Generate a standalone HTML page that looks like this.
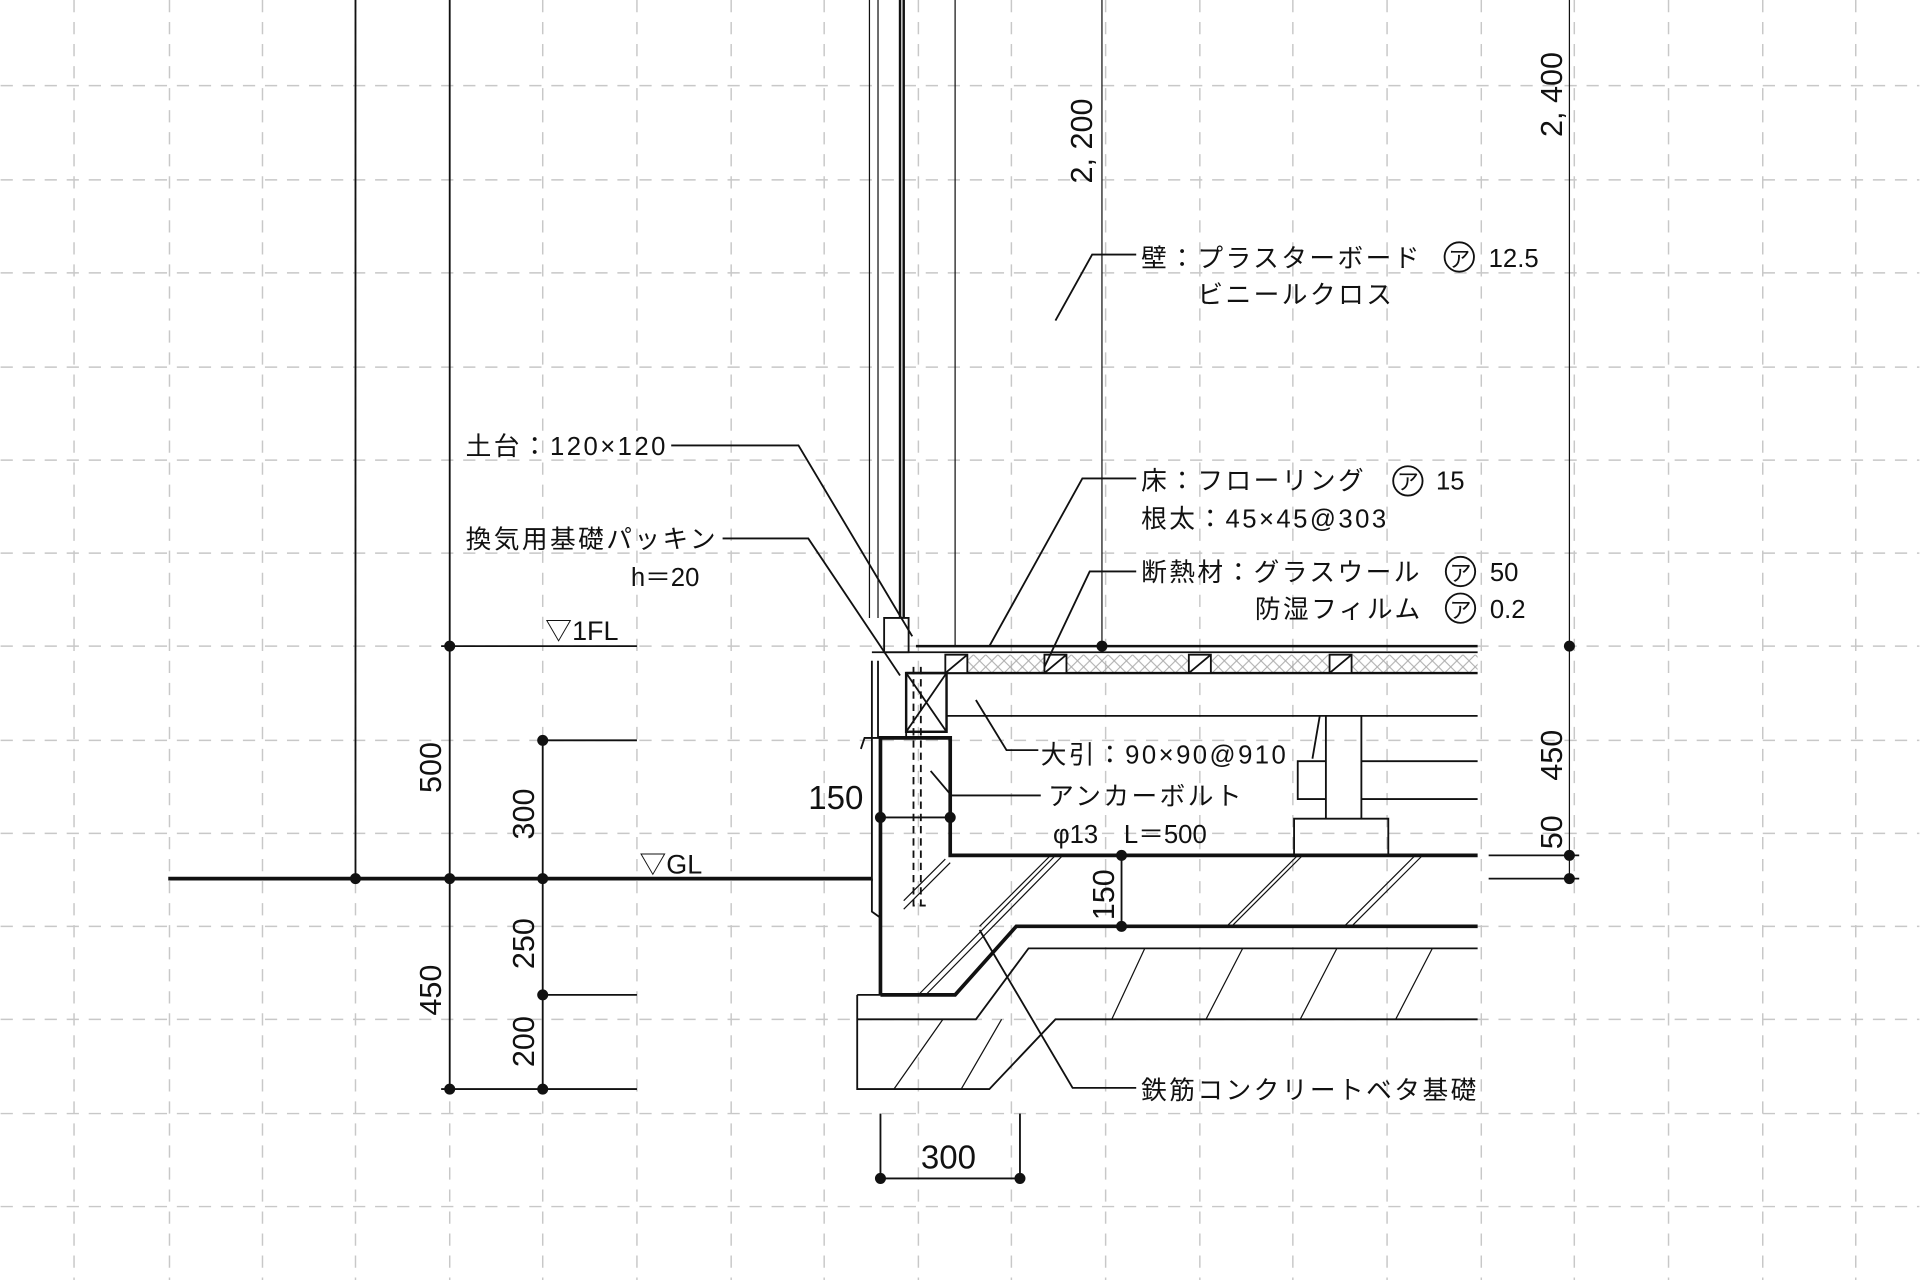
<!DOCTYPE html>
<html><head><meta charset="utf-8"><style>
html,body{margin:0;padding:0;background:#fff;}
svg{display:block;}
text{font-family:"Liberation Sans","Noto Sans CJK JP",sans-serif;font-size:21px;fill:#111;}
.j{letter-spacing:2px;}
</style></head><body>
<svg width="1920" height="1280" viewBox="0 0 1568 1046" xmlns="http://www.w3.org/2000/svg">
<defs>
<pattern id="xh" width="10" height="10" patternUnits="userSpaceOnUse">
<path d="M0 0L10 10M10 0L0 10" stroke="#aaa" stroke-width="0.8"/>
</pattern>
</defs>
<g stroke="#c8c8c8" stroke-width="1.2" stroke-dasharray="10 8" fill="none">
<path d="M60 0V1046M138 0V1046M214 0V1046M290 0V1046M367 0V1046M443 0V1046M520 0V1046M597 0V1046M673 0V1046M750 0V1046M826 0V1046M903 0V1046M980 0V1046M1056 0V1046M1133 0V1046M1210 0V1046M1286 0V1046M1363 0V1046M1440 0V1046M1516 0V1046"/>
<path d="M0 70H1568M0 147H1568M0 223H1568M0 300H1568M0 376H1568M0 452H1568M0 528H1568M0 605H1568M0 681H1568M0 757H1568M0 833H1568M0 910H1568M0 986H1568"/>
</g>
<g stroke="#111" fill="none" stroke-width="1.5">
<path d="M290 0V718M367 0V890M443 605V890"/>
<path d="M360 528H520M443 605H520M443 813H520M360 890H520"/>
<path d="M137 718H712" stroke-width="3"/>
<path d="M710 0V505M717 0V505M780 0V528M900 0V528M1282 0V718" stroke-width="1"/>
<path d="M735 0V505M738 0V505" stroke-width="2"/>
<path d="M722 505H742V533H722Z" stroke-width="1.5"/>
<path d="M748 528H1207" stroke-width="2"/>
<path d="M712 533H1207" stroke-width="1.5"/>
<rect x="773" y="535" width="434" height="15" fill="url(#xh)" stroke="none"/>
<path d="M740 550H1207" stroke-width="2"/>
<path d="M772 535H790V550H772ZM853 535H871V550H853ZM971 535H989V550H971ZM1086 535H1104V550H1086Z" fill="#fff"/>
<path d="M772 550L790 535M853 550L871 535M971 550L989 535M1086 550L1104 535"/>
<path d="M773 585H1207" stroke-width="1.5"/>
<rect x="740" y="550" width="33" height="48" stroke-width="2"/>
<path d="M740 550L773 598M773 550L740 598"/>
<path d="M712 540V720M717 540V603"/>
<path d="M703 612L706 603H740V598"/>
<path d="M719 813V603H776V699H1207" stroke-width="3"/>
<path d="M719 668H776"/>
<path d="M712 718V745L719 750"/>
<path d="M746 545V740H756M752 545V740" stroke-dasharray="6 4"/>
<path d="M719 813H780L830 757H1207" stroke-width="3"/>
<path d="M700 813H719M700 813V890H808L862 833H1207M700 833H797L840 775H1207"/>
<path d="M738 743L776 705M738 736L772 702M750 813L862 699M756 813L868 699M800 757L858 699M1002 757L1060 699M1006 757L1064 699M1098 757L1156 699M1104 757L1162 699" stroke-width="1"/>
<path d="M730 890L770 833M785 890L818 833M908 833L935 775M985 833L1015 775M1062 833L1092 775M1140 833L1170 775" stroke-width="1"/>
<path d="M1083 585V669M1112 585V669M1060 622H1083V653H1060ZM1057 669H1134V699H1057ZM1112 622H1207M1112 653H1207M1078 585L1072 620"/>
<path d="M916 699V757"/>
<path d="M1216 699H1290M1216 718H1290"/>
<path d="M719 910V963H833V910"/>
<path d="M862 262L892 208H928"/>
<path d="M808 528L884 391H928"/>
<path d="M853 545L890 467H928"/>
<path d="M548 364H652L745 520"/>
<path d="M590 440H660L735 552"/>
<path d="M797 572L822 613H848"/>
<path d="M760 630L777 650H850"/>
<path d="M800 760L876 889H928"/>
</g>
<g fill="#111">
<circle cx="367" cy="528" r="4.5"/><circle cx="367" cy="718" r="4.5"/><circle cx="367" cy="890" r="4.5"/><circle cx="290" cy="718" r="4.5"/>
<circle cx="443" cy="605" r="4.5"/><circle cx="443" cy="718" r="4.5"/><circle cx="443" cy="813" r="4.5"/><circle cx="443" cy="890" r="4.5"/>
<circle cx="900" cy="528" r="4.5"/><circle cx="1282" cy="528" r="4.5"/><circle cx="1282" cy="699" r="4.5"/><circle cx="1282" cy="718" r="4.5"/>
<circle cx="916" cy="699" r="4.5"/><circle cx="916" cy="757" r="4.5"/>
<circle cx="719" cy="668" r="4.5"/><circle cx="776" cy="668" r="4.5"/>
<circle cx="719" cy="963" r="4.5"/><circle cx="833" cy="963" r="4.5"/>
</g>
<g>
<text transform="translate(360,648) rotate(-90)" style="font-size:25px">500</text>
<text transform="translate(360,830) rotate(-90)" style="font-size:25px">450</text>
<text transform="translate(436,686) rotate(-90)" style="font-size:25px">300</text>
<text transform="translate(436,792) rotate(-90)" style="font-size:25px">250</text>
<text transform="translate(436,872) rotate(-90)" style="font-size:25px">200</text>
<text transform="translate(892,150) rotate(-90)" style="font-size:25px">2, 200</text>
<text transform="translate(1276,112) rotate(-90)" style="font-size:25px">2, 400</text>
<text transform="translate(1276,638) rotate(-90)" style="font-size:25px">450</text>
<text transform="translate(1276,694) rotate(-90)" style="font-size:25px">50</text>
<text transform="translate(910,752) rotate(-90)" style="font-size:25px">150</text>
<text x="660" y="661" style="font-size:27px">150</text>
<text x="752" y="955" style="font-size:27px">300</text>
</g>
<text x="445" y="523" style="font-size:22px">▽1FL</text>
<text x="522" y="714" style="font-size:22px">▽GL</text>
<text class="j" x="932" y="218">壁：プラスターボード</text>
<circle cx="1192" cy="210" r="12" fill="none" stroke="#111" stroke-width="1.5"/><text x="1183" y="218" style="font-size:18px">ア</text>
<text x="1216" y="218">12.5</text>
<text class="j" x="978" y="248">ビニールクロス</text>
<text class="j" x="932" y="400">床：フローリング</text>
<circle cx="1150" cy="393" r="12" fill="none" stroke="#111" stroke-width="1.5"/><text x="1141" y="400" style="font-size:18px">ア</text>
<text x="1173" y="400">15</text>
<text class="j" x="932" y="431">根太：45×45@303</text>
<text class="j" x="932" y="475">断熱材：グラスウール</text>
<circle cx="1193" cy="467" r="12" fill="none" stroke="#111" stroke-width="1.5"/><text x="1184" y="475" style="font-size:18px">ア</text>
<text x="1217" y="475">50</text>
<text class="j" x="1025" y="505">防湿フィルム</text>
<circle cx="1193" cy="497" r="12" fill="none" stroke="#111" stroke-width="1.5"/><text x="1184" y="505" style="font-size:18px">ア</text>
<text x="1217" y="505">0.2</text>
<text class="j" x="380" y="372">土台：120×120</text>
<text class="j" x="380" y="448">換気用基礎パッキン</text>
<text x="515" y="479">h＝20</text>
<text class="j" x="850" y="624">大引：90×90@910</text>
<text class="j" x="856" y="658">アンカーボルト</text>
<text x="860" y="689">φ13　L＝500</text>
<text class="j" x="932" y="898">鉄筋コンクリートベタ基礎</text>
</svg>
</body></html>
